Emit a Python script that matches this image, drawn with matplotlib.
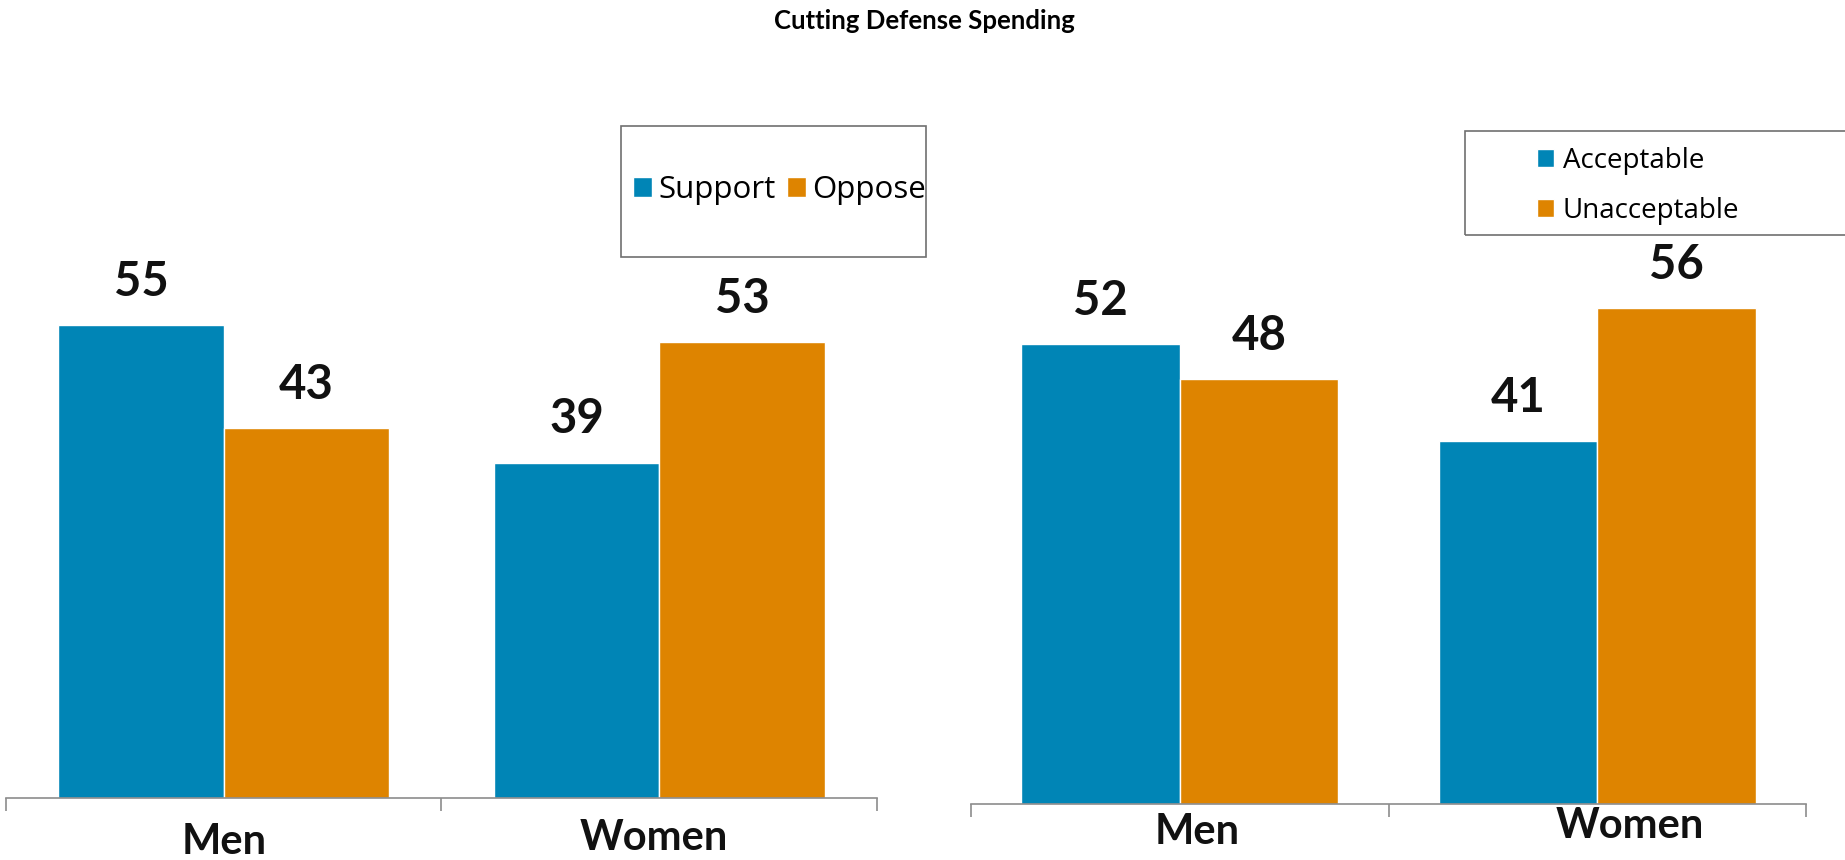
import numpy as np
import matplotlib
matplotlib.use('Agg')
from matplotlib import pyplot as plt
from matplotlib.patches import Rectangle
from matplotlib.transforms import offset_copy

# data
groups = ['Men', 'Women']
support = [55, 39]
oppose = [43, 53]
acceptable = [52, 41]
unacceptable = [48, 56]

blue = '#0085B6'
orange = '#DE8400'
axis_grey = '#8C8C8C'
label_font = 'Lato'
legend_font = 'Open Sans'

fig = plt.figure(figsize=(18.45, 8.6), dpi=100)
W, H = 1845.0, 860.0

ax1 = fig.add_axes([6/W, (H-798)/H, 871/W, 688/H])
ax2 = fig.add_axes([971/W, (H-804)/H, 835/W, 708/H])

x = np.arange(len(groups))
w = 0.38


def draw(ax, a, b, names, val_size, lab_off):
    bars_a = ax.bar(x - w/2, a, w, color=blue, edgecolor='white', linewidth=1, label=names[0])
    bars_b = ax.bar(x + w/2, b, w, color=orange, edgecolor='white', linewidth=1, label=names[1])
    for bars in (bars_a, bars_b):
        for r in bars:
            ax.annotate(str(int(r.get_height())), (r.get_x() + r.get_width()/2, r.get_height()),
                        xytext=(0, 21), textcoords='offset points', ha='center', va='baseline',
                        fontsize=val_size, fontweight='bold', family=label_font, color='#111111')
    ax.set_xlim(-0.5, 1.5)
    ax.set_ylim(0, 80)
    for s in ['top', 'left', 'right']:
        ax.spines[s].set_visible(False)
    ax.spines['bottom'].set_color(axis_grey)
    ax.spines['bottom'].set_linewidth(1.2)
    ax.set_yticks([])
    ax.set_xticks([-0.5, 0.5, 1.5])
    ax.set_xticklabels([])
    ax.tick_params(axis='x', length=9, width=1.2, color=axis_grey)
    # category labels, each nudged like in the source image
    for i, g in enumerate(groups):
        dx, dy = lab_off[i]
        tr = offset_copy(ax.get_xaxis_transform(), fig=fig, x=dx, y=-dy, units='dots')
        ax.text(i, 0, g, transform=tr, ha='center', va='center', fontsize=30,
                fontweight='bold', family=label_font, color='#111111')
    return bars_a, bars_b


h1 = draw(ax1, support, oppose, ['Support', 'Oppose'], 34, [(0, 44), (-5, 40)])
h2 = draw(ax2, acceptable, unacceptable, ['Acceptable', 'Unacceptable'], 34, [(17, 28), (33, 22)])

# legend boxes
fig.patches.append(Rectangle((621/W, (H-257)/H), 305/W, 131/H, transform=fig.transFigure,
                             fill=False, edgecolor='#707070', linewidth=1.2))
fig.patches.append(Rectangle((1465/W, (H-235)/H), 400/W, 104/H, transform=fig.transFigure,
                             fill=False, edgecolor='#707070', linewidth=1.2))

fig.legend(h1, ['Support', 'Oppose'], loc='center left', bbox_to_anchor=(633/W, (H-190)/H),
           ncol=2, frameon=False, handlelength=0.6, handleheight=0.6, handletextpad=0.22,
           columnspacing=0.35, borderpad=0, borderaxespad=0,
           prop={'family': legend_font, 'size': 22.5})
fig.legend(h2, ['Acceptable', 'Unacceptable'], loc='center left', bbox_to_anchor=(1537/W, (H-186)/H),
           ncol=1, frameon=False, handlelength=0.62, handleheight=0.62, handletextpad=0.3,
           labelspacing=0.8, borderpad=0, borderaxespad=0,
           prop={'family': legend_font, 'size': 20})

fig.text(924/W, (H-21)/H, 'Cutting Defense Spending', ha='center', va='center',
         fontsize=18.5, fontweight='bold', family=label_font)

fig.savefig('out.png', dpi=100)
